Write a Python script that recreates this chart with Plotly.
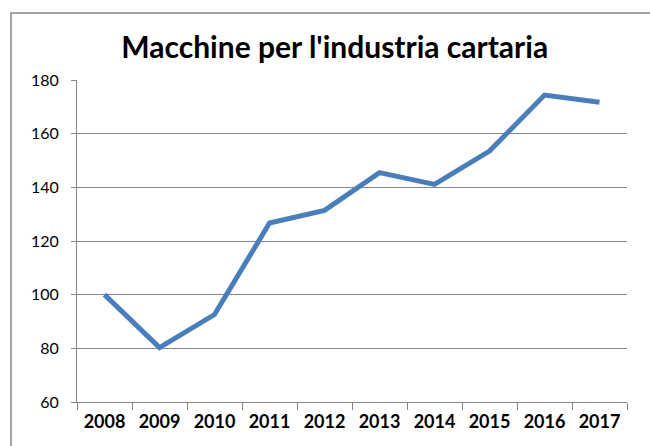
import plotly.graph_objects as go

years = ["2008", "2009", "2010", "2011", "2012", "2013", "2014", "2015", "2016", "2017"]
values = [100, 80.3, 92.6, 126.7, 131.4, 145.5, 141.1, 153.5, 174.4, 171.7]
title_text = "Macchine per l'industria cartaria"

fig = go.Figure()
fig.add_trace(go.Scatter(
    x=years, y=values, mode="lines",
    line=dict(color="#4A7EBB", width=5),
    hoverinfo="skip", showlegend=False,
))

W, H = 650, 446
L, R, T, B = 77, 23, 80, 44
pw, ph = W - L - R, H - T - B

def px_x(p):
    return (p - L) / pw

def px_y(p):
    return (H - B - p) / ph

fig.update_layout(
    width=W, height=H,
    margin=dict(l=L, r=R, t=T, b=B),
    paper_bgcolor="white", plot_bgcolor="white",
    font=dict(family="Lato", color="#000000"),
    title=dict(text="<b>" + title_text + "</b>", x=0.515, xanchor="center",
               y=1 - 47 / H, yanchor="middle",
               font=dict(size=30, family="Lato", color="#000000")),
    xaxis=dict(type="category", range=[-0.5, 9.5], tickson="boundaries",
               ticks="outside", ticklen=7, tickcolor="#868686", tickwidth=1,
               showline=True, linecolor="#868686", linewidth=1,
               showgrid=False, zeroline=False,
               tickfont=dict(size=18, family="Lato", color="#000000"),
               ticklabelstandoff=3),
    yaxis=dict(range=[60, 180], dtick=20, tick0=60,
               ticks="outside", ticklen=5, tickcolor="#868686", tickwidth=1,
               showline=True, linecolor="#868686", linewidth=1,
               showgrid=True, gridcolor="#868686", gridwidth=1,
               zeroline=False,
               tickfont=dict(size=16, family="Lato", color="#000000"),
               ticklabelstandoff=9),
    shapes=[dict(type="rect", xref="paper", yref="paper",
                 x0=px_x(11), x1=px_x(662), y0=px_y(13), y1=px_y(470),
                 line=dict(color="#868686", width=1.5), layer="below")],
)
fig.for_each_xaxis(lambda a: a.update(tickprefix="<b>", ticksuffix="</b>"))

fig.write_html("out.html",
               config={"displayModeBar": False},
               post_script="document.body.style.margin='0';document.body.style.overflow='hidden';")
